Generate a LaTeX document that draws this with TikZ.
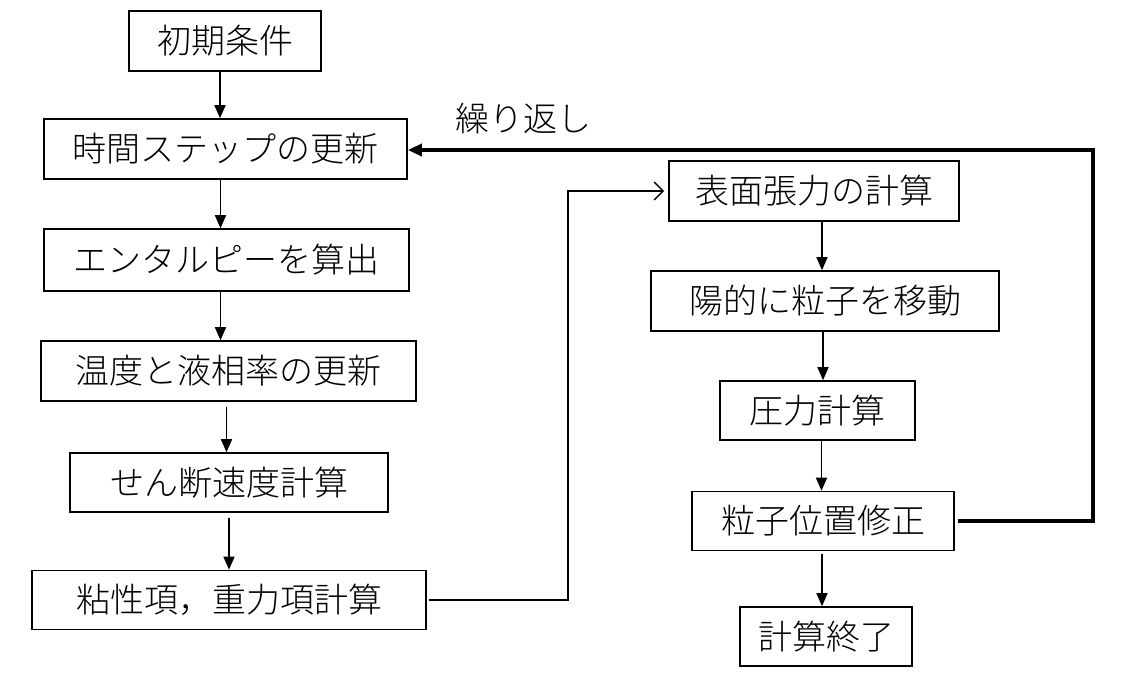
\documentclass[tikz,border=0pt]{standalone}
\usepackage{fontspec}
\setmainfont{Noto Sans CJK JP}[UprightFont=* Light]
\usetikzlibrary{arrows.meta}
\tikzset{
  box/.style={draw=black, line width=1.6pt, inner sep=0pt, font=\fontsize{34}{40}\selectfont, text=black},
  flow/.style={line width=1.6pt, -{Triangle[length=13pt,width=11pt]}},
  thinflow/.style={line width=1.4pt, -{Straight Barb[length=9pt,width=18pt,line width=1.4pt]}},
  loopline/.style={line width=4pt, -{Triangle[length=14pt,width=12pt]}},
}
\begin{document}
\begin{tikzpicture}[x=1pt,y=-1pt]
\useasboundingbox (0,0) rectangle (1125,693);
\node[box, minimum width=192pt, minimum height=60pt] (b1) at (225,41) {初期条件};
\node[box, minimum width=363pt, minimum height=60pt] (b2) at (225.5,149) {時間ステップの更新};
\node[box, minimum width=365pt, minimum height=62pt] (b3) at (226.5,260) {エンタルピーを算出};
\node[box, minimum width=375pt, minimum height=60pt] (b4) at (228.5,371) {温度と液相率の更新};
\node[box, minimum width=318pt, minimum height=59pt] (b5) at (229,482.5) {せん断速度計算};
\node[box, minimum width=394pt, minimum height=59pt] (b6) at (229,600) {粘性項，重力項計算};
\node[box, minimum width=290pt, minimum height=60pt] (b7) at (814,191) {表面張力の計算};
\node[box, minimum width=348pt, minimum height=60pt] (b8) at (825,301) {陽的に粒子を移動};
\node[box, minimum width=195pt, minimum height=59pt] (b9) at (817.5,410.5) {圧力計算};
\node[box, minimum width=262pt, minimum height=59pt] (b10) at (823,521) {粒子位置修正};
\node[box, minimum width=172pt, minimum height=59pt] (b11) at (826,636.5) {計算終了};
\node[font=\fontsize{34}{40}\selectfont, inner sep=0pt] (lbl) at (523,119) {繰り返し};

\draw[flow] ([xshift=-5pt]b1.south) -- ([xshift=-5pt]b1.south |- b2.north);
\draw[flow] ([xshift=-5pt]b2.south) -- ([xshift=-5pt]b2.south |- b3.north);
\draw[flow] ([xshift=-6pt]b3.south) -- ([xshift=-6pt]b3.south |- b4.north);
\draw[flow] ([xshift=-2pt,yshift=-5pt]b4.south) -- ([xshift=-2pt]b4.south |- b5.north);
\draw[flow] ([yshift=-5pt]b5.south) -- (b6.north);
\draw[flow] ([xshift=8pt]b7.south) -- ([xshift=8pt]b7.south |- b8.north);
\draw[flow] ([xshift=-2pt]b8.south) -- ([xshift=-2pt]b8.south |- b9.north);
\draw[flow] ([xshift=4pt]b9.south) -- ([xshift=4pt]b9.south |- b10.north);
\draw[flow] ([xshift=-1pt,yshift=-3pt]b10.south) -- ([xshift=-1pt]b10.south |- b11.north);

\coordinate (c2) at (568,191);
\draw[thinflow] ([xshift=2pt]b6.east) -| (c2) -- ([xshift=-4pt]b7.west);

\coordinate (r2) at (1093,150);
\draw[loopline] ([xshift=3pt]b10.east) -| (r2) -- (b2.east |- r2);
\end{tikzpicture}
\end{document}
